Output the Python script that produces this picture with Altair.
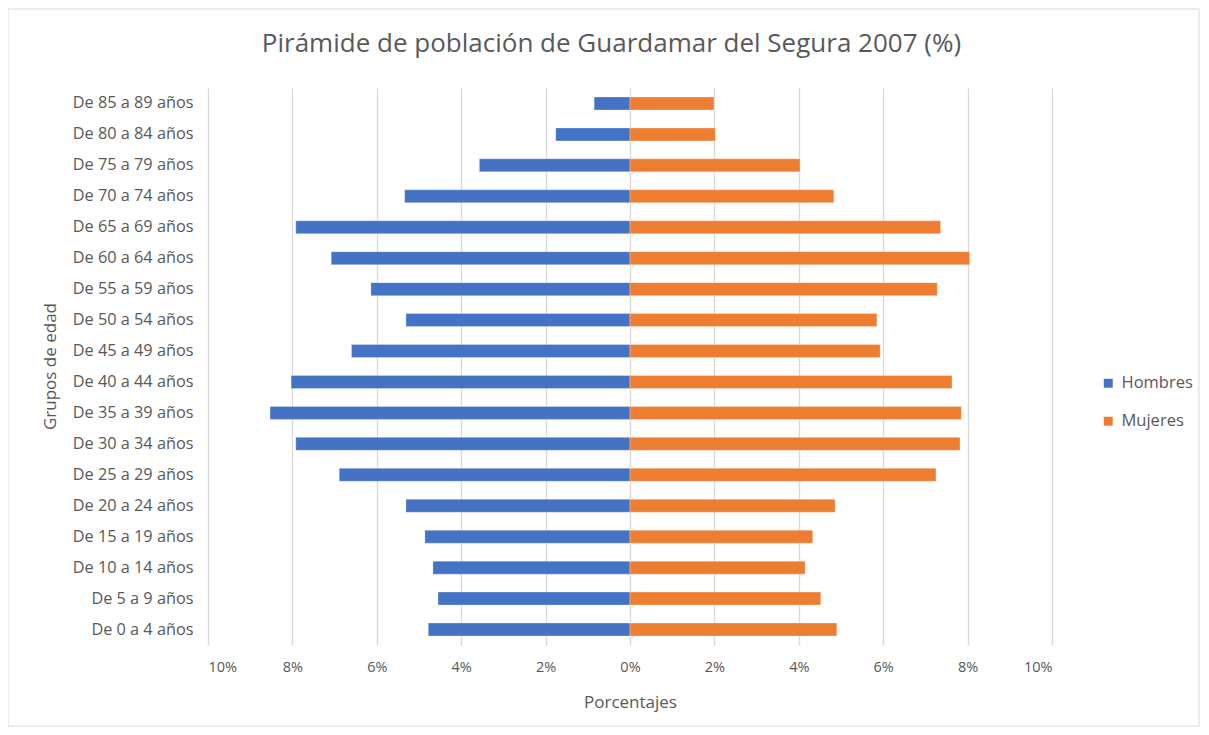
import altair as alt
import pandas as pd

grupos = [
    "De 85 a 89 años", "De 80 a 84 años", "De 75 a 79 años", "De 70 a 74 años",
    "De 65 a 69 años", "De 60 a 64 años", "De 55 a 59 años", "De 50 a 54 años",
    "De 45 a 49 años", "De 40 a 44 años", "De 35 a 39 años", "De 30 a 34 años",
    "De 25 a 29 años", "De 20 a 24 años", "De 15 a 19 años", "De 10 a 14 años",
    "De 5 a 9 años", "De 0 a 4 años",
]
hombres = [0.85, 1.76, 3.57, 5.34, 7.92, 7.08, 6.14, 5.31, 6.60, 8.03, 8.53, 7.92,
           6.89, 5.31, 4.86, 4.67, 4.55, 4.78]
mujeres = [1.99, 2.02, 4.03, 4.83, 7.36, 8.05, 7.28, 5.85, 5.93, 7.63, 7.85, 7.82,
           7.25, 4.86, 4.33, 4.15, 4.52, 4.90]
series = ["Hombres", "Mujeres"]
colores = ["#4472C4", "#ED7D31"]

rows = []
for g, h, m in zip(grupos, hombres, mujeres):
    rows.append({"grupo": g, "sexo": "Hombres", "valor": -h})
    rows.append({"grupo": g, "sexo": "Mujeres", "valor": m})
df = pd.DataFrame(rows)

FONT = "Open Sans"
GRAY = "#595959"

bars = alt.Chart(df).mark_bar(stroke="white", strokeWidth=0.5, strokeOpacity=0.6).encode(
    x=alt.X(
        "valor:Q",
        scale=alt.Scale(domain=[-10, 10], nice=False),
        axis=alt.Axis(
            values=[-10, -8, -6, -4, -2, 0, 2, 4, 6, 8, 10],
            labelExpr="abs(datum.value) + '%'",
            title="Porcentajes",
            domain=False,
            ticks=False,
            labelPadding=15,
            labelFontSize=14.5,
            titlePadding=21,
            grid=True,
            gridColor="#d9d9d9",
            gridWidth=1.3,
        ),
    ),
    y=alt.Y(
        "grupo:N",
        sort=grupos,
        scale=alt.Scale(paddingInner=0.58, paddingOuter=0.29),
        axis=alt.Axis(
            title="Grupos de edad",
            domain=False,
            ticks=False,
            grid=False,
            labelPadding=15,
            labelFontSize=16.3,
            titleX=-158,
            titleY=278,
            titleAngle=-90,
            titleAlign="center",
            titleBaseline="middle",
        ),
    ),
    color=alt.Color(
        "sexo:N",
        scale=alt.Scale(domain=series, range=colores),
        legend=alt.Legend(
            title=None,
            orient="none",
            legendX=892,
            legendY=287,
            symbolType="square",
            symbolSize=80,
            symbolStrokeWidth=0,
            labelFontSize=16.5,
            labelColor=GRAY,
            labelFont=FONT,
            rowPadding=21,
            labelOffset=5,
        ),
    ),
)

frame_df = pd.DataFrame({"k": [0]})
frame = alt.Chart(frame_df).mark_rect(fill=None, stroke="#d9d9d9", strokeWidth=1).encode(
    x=alt.value(-200), x2=alt.value(991), y=alt.value(-79), y2=alt.value(638)
)

chart = alt.layer(frame, bars).properties(
    width=844,
    height=557,
    autosize=alt.AutoSizeParams(type="none"),
    padding={"left": 200, "top": 80, "right": 149, "bottom": 82},
    title=alt.TitleParams(
        "Pirámide de población de Guardamar del Segura 2007 (%)",
        fontSize=26,
        font=FONT,
        fontWeight="normal",
        color=GRAY,
        anchor="middle",
        dx=-18.5,
        offset=-48,
    ),
).configure(background="white").configure_view(stroke=None).configure_axis(
    labelFont=FONT,
    labelColor=GRAY,
    titleFont=FONT,
    titleFontSize=17,
    titleColor=GRAY,
    titleFontWeight="normal",
)

chart.save("out.html", embed_options={"renderer": "svg", "actions": False})
